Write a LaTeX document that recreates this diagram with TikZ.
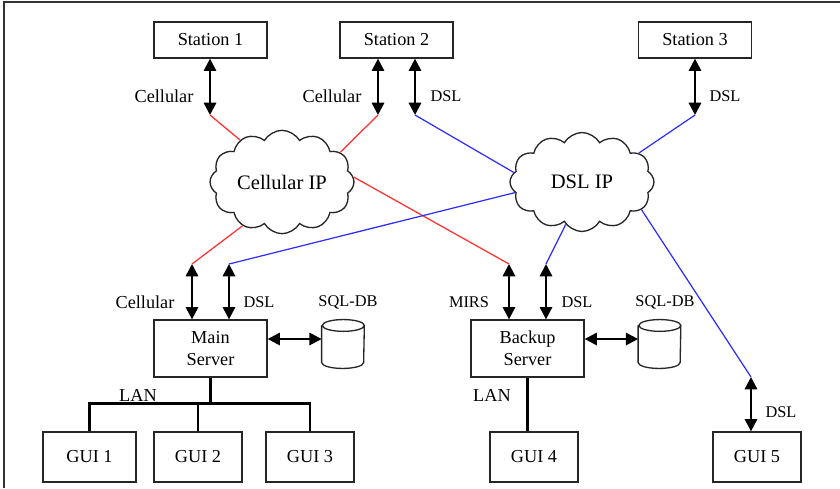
\documentclass[tikz,border=0pt]{standalone}
\usepackage{fontspec}
\setmainfont{Liberation Serif}
\usetikzlibrary{arrows.meta,shapes.geometric,shapes.symbols,positioning,calc}
\definecolor{cellred}{RGB}{255,45,45}
\definecolor{dslblue}{RGB}{45,45,255}
\tikzset{
  box/.style={rectangle,draw=black!85,line width=0.75pt,fill=white,
              minimum width=#1,minimum height=0.72cm,align=center,
              font=\fontsize{10.4}{12.5}\selectfont,inner sep=1pt},
  box/.default=2.26cm,
  duplex/.style={{Triangle[width=7pt,length=7pt]}-{Triangle[width=7pt,length=7pt]},
                 line width=1.3pt},
  cellnet/.style={cellred,line width=0.7pt},
  dslnet/.style={dslblue,line width=0.7pt},
  lan/.style={line width=1.4pt},
  ipcloud/.style={cloud,cloud puffs=12,cloud puff arc=120,aspect=1.45,
                  draw=black!85,line width=0.75pt,fill=white,
                  minimum width=2.88cm,minimum height=1.98cm,inner sep=0pt,
                  font=\fontsize{11.7}{14}\selectfont},
  db/.style={rectangle,minimum width=0.84cm,minimum height=0.96cm,inner sep=0pt},
  dbline/.style={draw=black!85,line width=0.75pt},
  lbl/.style={font=\fontsize{10.4}{12.5}\selectfont,inner sep=0pt},
  slbl/.style={font=\fontsize{9.3}{11}\selectfont,inner sep=0pt},
}
\begin{document}
\begin{tikzpicture}[x=0.02cm,y=-0.02cm]
  \useasboundingbox (0,0) rectangle (840,488);
  \draw[line width=0.8pt,black!80] (4,488) |- (840,2);

  % stations and clouds
  \node[box] (st1) at (210.5,40)  {Station 1};
  \node[box] (st2) at (396.5,40)  {Station 2};
  \node[box] (st3) at (695,40)    {Station 3};
  \node[ipcloud] (cip) at (282,182) {Cellular IP};
  \node[ipcloud] (dip) at (582,182) {DSL IP};

  % servers, databases, GUIs
  \node[box,minimum height=1.14cm] (main)   at (210.5,348.5) {Main\\Server};
  \node[box,minimum height=1.14cm] (backup) at (527.5,348.5) {Backup\\Server};
  \node[db] (db1) at (343,344)   {};
  \node[db] (db2) at (659.5,344) {};
  \foreach \d in {db1,db2}
    \draw[dbline] ([yshift=-3.3pt]\d.north west) -- ([yshift=3.3pt]\d.south west)
      arc[start angle=180,end angle=360,x radius=0.42cm,y radius=0.118cm]
      -- ([yshift=-3.3pt]\d.north east)
      arc[start angle=0,end angle=360,x radius=0.42cm,y radius=0.118cm];
  \node[box=1.86cm,minimum height=1cm] (gui1) at (89.5,457) {GUI 1};
  \node[box=1.76cm,minimum height=1cm] (gui2) at (198,457)  {GUI 2};
  \node[box=1.76cm,minimum height=1cm] (gui3) at (310,457)  {GUI 3};
  \node[box=1.76cm,minimum height=1cm] (gui4) at (534,457)  {GUI 4};
  \node[box=1.76cm,minimum height=1cm] (gui5) at (757,457)  {GUI 5};

  % arrow ends
  \coordinate (st1c)  at (210,115);
  \coordinate (st2c)  at (378,115);
  \coordinate (st2d)  at (415,115);
  \coordinate (st3d)  at (695,115);
  \coordinate (mainc) at (192,264);
  \coordinate (maind) at (229,264);
  \coordinate (bkm)   at (509,264);
  \coordinate (bkd)   at (546,264);
  \coordinate (gui5d) at (751,377);

  \foreach \c/\n in {st1c/st1,st2c/st2,st2d/st2,st3d/st3}
    \draw[duplex] (\c |- \n.south) -- (\c);
  \foreach \c/\n in {mainc/main,maind/main,bkm/backup,bkd/backup,gui5d/gui5}
    \draw[duplex] (\c) -- (\c |- \n.north);
  \draw[duplex] ([yshift=5.4pt]main.east) -- ([yshift=5.4pt]main.east -| db1.west);
  \draw[duplex] ([yshift=5.4pt]backup.east) -- ([yshift=5.4pt]backup.east -| db2.west);

  % cellular links
  \draw[cellnet] (st1c) -- (cip.135);
  \draw[cellnet] (st2c) -- (cip.27);
  \draw[cellnet] (cip.4) -- (bkm);
  \draw[cellnet] (cip.228) -- (mainc);
  % dsl links
  \draw[dslnet] (st2d) -- (dip.172);
  \draw[dslnet] (st3d) -- (dip.27);
  \draw[dslnet] (dip.189) -- (maind);
  \draw[dslnet] (dip.249) -- (bkd);
  \draw[dslnet] (dip.335) -- (gui5d);

  % LAN
  \draw[lan] (main.south) -- ++(0,26) coordinate (bus);
  \draw[lan] (gui1.north) |- (bus) -| (gui3.north);
  \draw[lan] (gui2.north) -- (gui2.north |- bus);
  \draw[lan] (backup.south) -- (backup.south |- gui4.north);

  % labels
  \node[lbl]  (l1)  at (164,96)  {Cellular};
  \node[lbl]  (l2)  at (332,96)  {Cellular};
  \node[slbl] (l3)  at (446,96)  {DSL};
  \node[slbl] (l4)  at (725,96)  {DSL};
  \node[lbl]  (l5)  at (145,302) {Cellular};
  \node[slbl] (l6)  at (259,302) {DSL};
  \node[slbl] (l7)  at (348,302) {SQL-DB};
  \node[slbl] (l8)  at (469,302) {MIRS};
  \node[slbl] (l9)  at (577,302) {DSL};
  \node[slbl] (l10) at (665,302) {SQL-DB};
  \node[lbl]  (l11) at (138,395) {LAN};
  \node[lbl]  (l12) at (492,395) {LAN};
  \node[slbl] (l13) at (781,412) {DSL};
\end{tikzpicture}
\end{document}
